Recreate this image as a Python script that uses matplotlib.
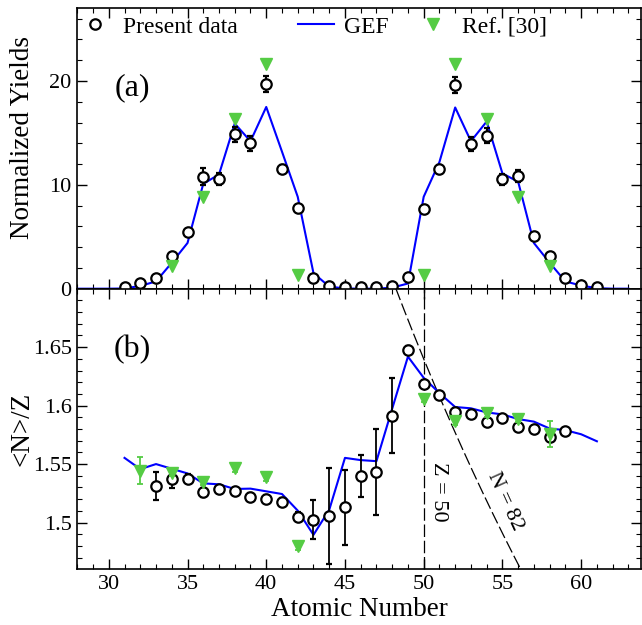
import matplotlib
matplotlib.use("Agg")
import matplotlib.pyplot as plt
from matplotlib.lines import Line2D
from matplotlib.legend import Legend
import numpy as np

# panel (a): normalized yields
z_data = list(range(31, 62))
yields = [0.13, 0.52, 1.06, 3.15, 5.43, 10.8, 10.57, 14.87, 14.0, 19.72, 11.5, 7.8,
          1.06, 0.26, 0.13, 0.2, 0.13, 0.3, 1.1, 7.7, 11.5, 19.6, 13.94, 14.74,
          10.53, 10.86, 5.1, 3.15, 1.06, 0.36, 0.13]
yields_err = [0.1, 0.1, 0.1, 0.3, 0.3, 0.8, 0.55, 0.7, 0.7, 0.75, 0.4, 0.3,
              0.2, 0.1, 0.1, 0.1, 0.1, 0.1, 0.2, 0.3, 0.4, 0.75, 0.7, 0.7,
              0.55, 0.6, 0.3, 0.3, 0.2, 0.1, 0.1]

z_gef_a = list(range(28, 64))
gef_yields = [0, 0, 0, 0.02, 0.27, 0.7, 2.5, 4.4, 10.1, 11.0, 15.9, 14.2, 17.5, 13.2,
              8.85, 1.5, 0.2, 0.02, 0.0, 0.0, 0.1, 0.5, 8.85, 12.2, 17.45, 14.2,
              16.1, 11.1, 10.3, 4.4, 2.5, 0.7, 0.3, 0.05, 0.0, 0.0]

z_ref_a = [34, 36, 38, 40, 42, 50, 52, 54, 56, 58]
ref_yields = [2.2, 8.8, 16.35, 21.6, 1.35, 1.35, 21.6, 16.35, 8.8, 2.2]

# panel (b): <N>/Z
z_nz = list(range(33, 60))
nz = [1.5315, 1.5372, 1.5375, 1.5259, 1.5284, 1.5267, 1.5219, 1.5204, 1.5176,
      1.5049, 1.5023, 1.5054, 1.513, 1.5398, 1.5434, 1.5914, 1.6479, 1.6187,
      1.6087, 1.5948, 1.5928, 1.5863, 1.5894, 1.5817, 1.5798, 1.5732, 1.5783]
nz_err = [0.012, 0.008, 0.004, 0.004, 0.003, 0.003, 0.003, 0.003, 0.003,
          0.004, 0.0167, 0.041, 0.032, 0.018, 0.037, 0.032, 0.003, 0.003,
          0.002, 0.003, 0.002, 0.003, 0.002, 0.003, 0.002, 0.003, 0.002]

z_gef_b = list(range(31, 62))
gef_nz = [1.5553, 1.5457, 1.55, 1.546, 1.542, 1.5335, 1.5327, 1.5287, 1.529,
          1.5267, 1.5244, 1.5102, 1.4895, 1.5108, 1.5553, 1.5534, 1.5525, 1.5974,
          1.6419, 1.6238, 1.6107, 1.5988, 1.5977, 1.5942, 1.5925, 1.5885, 1.5863,
          1.5804, 1.579, 1.5755, 1.5695]

z_ref_b = [32, 34, 36, 38, 40, 42, 50, 52, 54, 56, 58]
ref_nz = [1.5443, 1.5426, 1.5349, 1.5463, 1.5386, 1.4796, 1.6059, 1.5868,
          1.5936, 1.5889, 1.5755]
ref_nz_err = [0.0115, 0.003, 0.003, 0.003, 0.003, 0.003, 0.003, 0.003, 0.003,
              0.003, 0.011]

GREEN = "#55cc44"
BLUE = "#0000ff"

plt.rcParams["font.family"] = ["Liberation Serif", "DejaVu Serif"]
plt.rcParams["font.size"] = 16


def style_axis(ax):
    ax.tick_params(which="both", direction="in", top=True, right=True, labelsize=16, pad=4)
    ax.tick_params(which="major", length=7, width=1.0)
    ax.tick_params(which="minor", length=3.5, width=0.8)
    for s in ax.spines.values():
        s.set_linewidth(1.2)
    ax.set_xlim(28, 63.8)
    ax.set_xticks(np.arange(30, 61, 5))
    ax.set_xticks(np.arange(28, 64, 1), minor=True)


def plot_graph():
    fig = plt.figure(figsize=(6.42, 6.25), dpi=100)
    ax1 = fig.add_axes([0.1204, 0.5381, 0.8780, 0.4486])
    ax2 = fig.add_axes([0.1204, 0.0891, 0.8780, 0.4490])

    # (a)
    ax1.plot(z_gef_a, gef_yields, color=BLUE, lw=1.5, zorder=2)
    ax1.errorbar(z_data, yields, yerr=yields_err, fmt="o", ms=7.5, mfc="white",
                 mec="black", mew=1.6, ecolor="black", elinewidth=1.5, capsize=2,
                 capthick=1.5, zorder=3)
    ax1.plot(z_ref_a, ref_yields, "v", color=GREEN, ms=9, zorder=4)
    style_axis(ax1)
    ax1.set_ylim(0, 27)
    ax1.set_yticks([0, 10, 20])
    ax1.set_yticks(np.arange(0, 27, 2), minor=True)
    ax1.tick_params(labelbottom=False)
    ax1.set_ylabel("Normalized Yields", fontsize=19.5)
    ax1.yaxis.set_label_coords(-0.075, 0.54)
    ax1.text(0.067, 0.716, "(a)", transform=ax1.transAxes, fontsize=23, va="center")

    # legend, three entries spread across the top
    h1 = Line2D([], [], ls="none", marker="o", ms=7.5, mfc="white", mec="black", mew=1.6)
    h2 = Line2D([], [], color=BLUE, lw=1.5)
    h3 = Line2D([], [], ls="none", marker="v", ms=9, color=GREEN)
    for h, lab, xpos in [(h1, "Present data", 0.0), (h2, "GEF", 0.392), (h3, "Ref. [30]", 0.600)]:
        leg = Legend(ax1, [h], [lab], loc="center left", bbox_to_anchor=(xpos, 0.934),
                     frameon=False, fontsize=17, borderpad=0, borderaxespad=0,
                     handlelength=1.5, handletextpad=0.45)
        ax1.add_artist(leg)

    # (b)
    ax2.plot(z_gef_b, gef_nz, color=BLUE, lw=1.5, zorder=2)
    ax2.errorbar(z_nz, nz, yerr=nz_err, fmt="o", ms=7.5, mfc="white",
                 mec="black", mew=1.6, ecolor="black", elinewidth=1.3, capsize=2,
                 capthick=1.3, zorder=3)
    ax2.errorbar(z_ref_b, ref_nz, yerr=ref_nz_err, fmt="v", ms=9, color=GREEN,
                 ecolor=GREEN, elinewidth=1.3, capsize=2, capthick=1.3, zorder=4)

    ax2.axvline(50, color="black", lw=0.9, dashes=(10, 3), zorder=1)
    zz = np.linspace(47.5, 57, 200)
    ax2.plot(zz, 82 / zz, color="black", lw=0.9, dashes=(10, 3), zorder=1)
    ax2.text(50.92, 1.526, "Z = 50", rotation=-90, ha="center", va="center", fontsize=16)
    ax2.text(55.14, 1.518, "N = 82", rotation=-65.5, ha="center", va="center", fontsize=16)

    style_axis(ax2)
    ax2.set_ylim(1.46, 1.70)
    ax2.set_yticks([1.5, 1.55, 1.6, 1.65])
    ax2.set_yticklabels(["1.5", "1.55", "1.6", "1.65"])
    ax2.set_yticks(np.arange(1.47, 1.70, 0.01), minor=True)
    ax2.set_ylabel("<N>/Z", fontsize=19.5)
    ax2.yaxis.set_label_coords(-0.075, 0.5)
    ax2.set_xlabel("Atomic Number", fontsize=19.5, labelpad=2)
    ax2.text(0.064, 0.782, "(b)", transform=ax2.transAxes, fontsize=23, va="center")

    fig.savefig("out.png", dpi=100)


if __name__ == "__main__":
    plot_graph()
